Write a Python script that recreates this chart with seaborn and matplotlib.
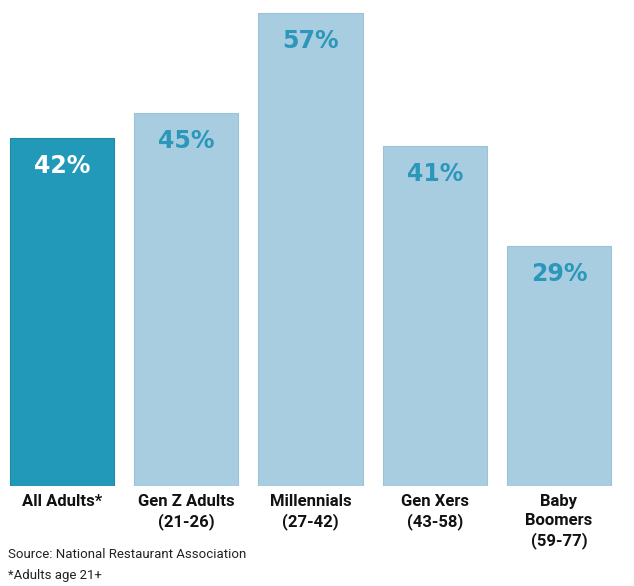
import matplotlib
matplotlib.use("Agg")
import matplotlib.pyplot as plt
import seaborn as sns

# values
groups = ["All Adults*", "Gen Z Adults\n(21-26)", "Millennials\n(27-42)",
          "Gen Xers\n(43-58)", "Baby\nBoomers\n(59-77)"]
shares = [42, 45, 57, 41, 29]
bar_colors = ["#2299b9", "#a9cde0", "#a9cde0", "#a9cde0", "#a9cde0"]
edge_colors = ["#1f8aa6", "#9cc2d6", "#9cc2d6", "#9cc2d6", "#9cc2d6"]
label_colors = ["white", "#2b97ba", "#2b97ba", "#2b97ba", "#2b97ba"]

sns.set_style("white")
plt.rcParams["font.family"] = ["Roboto", "DejaVu Sans"]

fig = plt.figure(figsize=(6.34, 5.86), dpi=100)
ax = fig.add_axes([0.0, 100 / 586, 621 / 634, 481 / 586])

sns.barplot(x=groups, y=shares, hue=groups, palette=bar_colors,
            legend=False, width=0.84, ax=ax, saturation=1)

for patch, ec, lc, v in zip(ax.patches, edge_colors, label_colors, shares):
    patch.set_edgecolor(ec)
    patch.set_linewidth(0.8)
    ax.text(patch.get_x() + patch.get_width() / 2, patch.get_height() - 3.4,
            f"{v}%", ha="center", va="center", color=lc,
            fontsize=17, fontweight="black", family=["DejaVu Sans"])

ax.set_xlim(-0.5, 4.5)
ax.set_ylim(0, 58)
ax.set_yticks([])
ax.set_ylabel("")
ax.set_xlabel("")
ax.tick_params(axis="x", length=0, pad=6)
for lbl in ax.get_xticklabels():
    lbl.set_fontsize(12)
    lbl.set_fontweight("bold")
    lbl.set_color("#111111")
    lbl.set_va("top")
    lbl.set_linespacing(1.3)
sns.despine(ax=ax, left=True, bottom=True)

fig.text(8 / 634, 1 - 554 / 586, "Source: National Restaurant Association",
         fontsize=9.5, va="center", ha="left", color="#222222")
fig.text(8 / 634, 1 - 575 / 586, "*Adults age 21+",
         fontsize=9.5, va="center", ha="left", color="#222222")

fig.savefig("out.png", dpi=100)
